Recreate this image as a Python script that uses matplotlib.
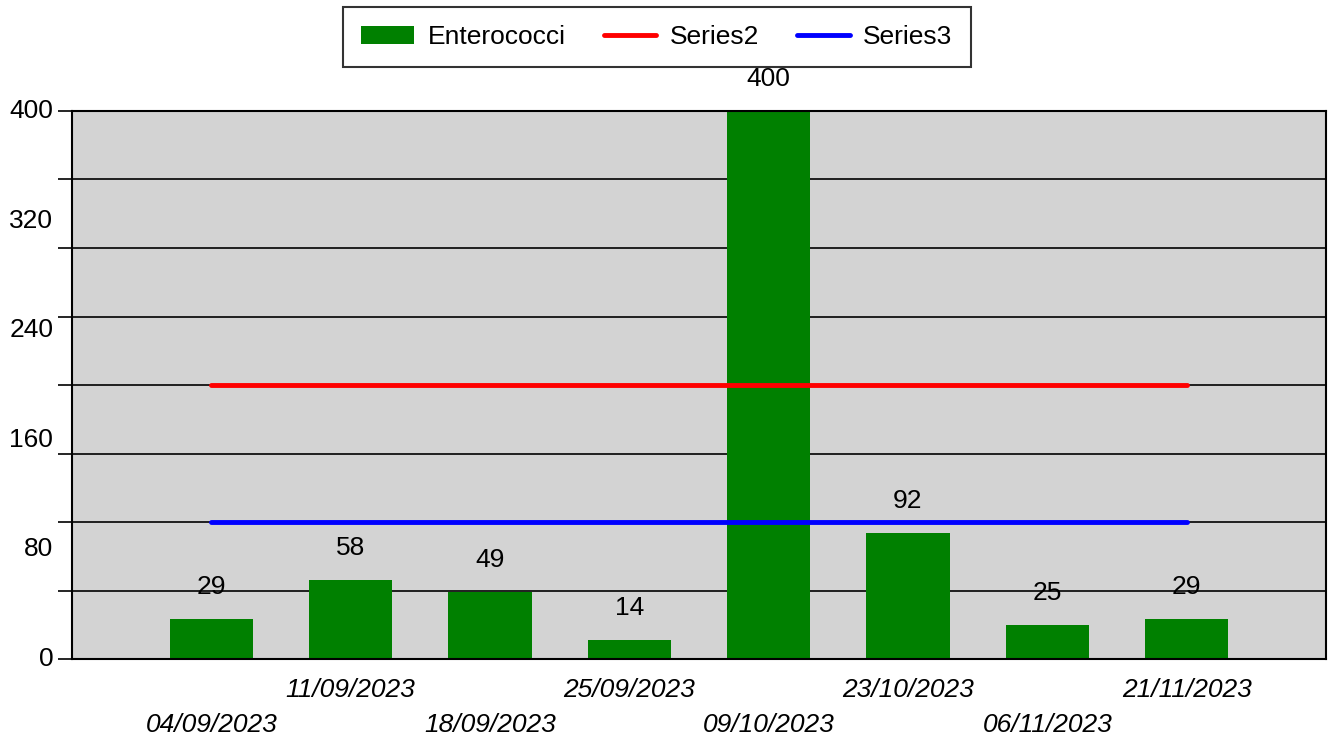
import matplotlib
matplotlib.use("Agg")
import matplotlib.pyplot as plt
import matplotlib.transforms as mtransforms

dates = ["04/09/2023", "11/09/2023", "18/09/2023", "25/09/2023",
         "09/10/2023", "23/10/2023", "06/11/2023", "21/11/2023"]
enterococci = [29, 58, 49, 14, 400, 92, 25, 29]
series2 = [200] * len(dates)
series3 = [100] * len(dates)
ytick_labels = [0, 80, 160, 240, 320, 400]

plt.rcParams["font.family"] = ["Liberation Sans", "DejaVu Sans"]
fs = 19

fig = plt.figure(figsize=(13.3, 7.39), dpi=100)
ax = fig.add_axes([72 / 1330, 1 - 659 / 739, (1326 - 72) / 1330, (659 - 111) / 739])
ax.set_facecolor("#d3d3d3")

x = list(range(len(dates)))
ax.set_axisbelow(True)
bars = ax.bar(x, enterococci, width=0.6, color="#008000", label="Enterococci", zorder=2)
l2, = ax.plot(x, series2, color="#ff0000", lw=3.5, label="Series2", zorder=3, solid_capstyle="round")
l3, = ax.plot(x, series3, color="#0000ff", lw=3.5, label="Series3", zorder=3, solid_capstyle="round")

ax.set_xlim(-1, len(dates))
ax.set_ylim(0, 400)

# gridlines every 50, labels every 80
ax.set_yticks(range(0, 401, 50))
ax.set_yticklabels([])
ax.tick_params(axis="y", length=10, width=1.2, color="black")
ax.yaxis.grid(True, color="black", lw=1.2, zorder=1)
ax.set_xticks([])
trans = mtransforms.blended_transform_factory(ax.transAxes, ax.transData)
for v in ytick_labels:
    ax.text(-0.015, v, str(v), transform=trans, ha="right", va="center", fontsize=fs)

for s in ax.spines.values():
    s.set_color("black")
    s.set_linewidth(1.5)

# value labels
for xi, v in zip(x, enterococci):
    ax.annotate(str(v), (xi, v), xytext=(0, 23), textcoords="offset points",
                ha="center", va="center", fontsize=fs, annotation_clip=False)

# staggered date labels
for xi, d in zip(x, dates):
    off = -47.5 if xi % 2 == 0 else -22
    ax.annotate(d, (xi, 0), xycoords=("data", "axes fraction"), xytext=(0, off),
                textcoords="offset points", ha="center", va="center",
                fontsize=fs, style="italic", annotation_clip=False)

leg = ax.legend([bars, l2, l3], ["Enterococci", "Series2", "Series3"],
                loc="center", bbox_to_anchor=(657 / 1330, 1 - 37 / 739),
                bbox_transform=fig.transFigure, ncol=3, fontsize=fs, frameon=True,
                fancybox=False, edgecolor="black", handlelength=2.0,
                handletextpad=0.5, columnspacing=1.45, borderpad=0.7)
leg.get_frame().set_linewidth(1.5)

fig.savefig("out.png", dpi=100)
